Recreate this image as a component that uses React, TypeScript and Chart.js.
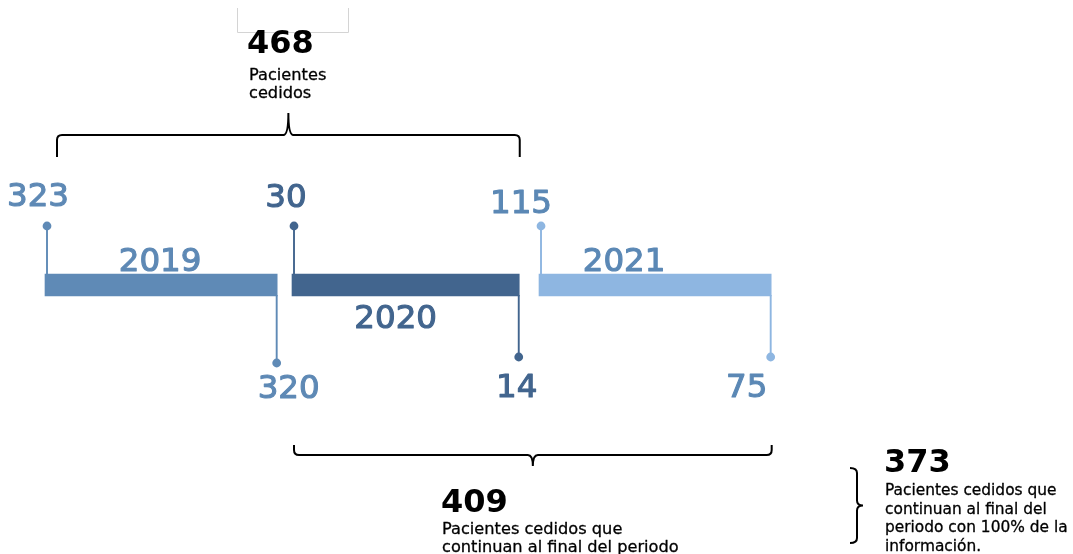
import { useEffect, useRef } from "react";
import { Chart, registerables } from "chart.js";

Chart.register(...registerables);

// ---- data ----
const years = ["2019", "2020", "2021"];
const periodStart = [2019, 2020, 2021];
const periodEnd = [2019.94, 2020.92, 2021.94];
const patientsStart = [323, 30, 115];
const patientsEnd = [320, 14, 75];
const totalCeded = 468;
const totalContinuing = 409;
const totalComplete = 373;
const cededText = ["Pacientes", "cedidos"];
const continuingText = ["Pacientes cedidos que", "continuan al final del periodo"];
const completeText = [
  "Pacientes cedidos que",
  "continuan al final del",
  "periodo con 100% de la",
  "información.",
];

// ---- styles ----
const barColors = ["#5f8ab6", "#42658e", "#8eb6e1"];
const labelColors = ["#5e89b5", "#42658e", "#5b88b5"];
const BIG = `32.5px "DejaVu Sans", sans-serif`;
const BLACK_BIG = `bold 32px "DejaVu Sans", sans-serif`;
const BODY = `16.2px "DejaVu Sans", sans-serif`;
const BODY_SIDE = `15.4px "DejaVu Sans", sans-serif`;

const topLabelNudge = [
  { dx: -9, dy: -20 },
  { dx: -8, dy: -19 },
  { dx: -20, dy: -13 },
];
const bottomStem = [67, 61, 61];
const bottomLabelNudge = [
  { dx: 12, dy: 35 },
  { dx: -2, dy: 40 },
  { dx: -24, dy: 40 },
];
const yearLabelNudge = [
  { dx: -1, dy: -3, below: false },
  { dx: -10, dy: 32, below: true },
  { dx: -31, dy: -3, below: false },
];

function drawText(
  ctx: CanvasRenderingContext2D,
  s: string,
  x: number,
  y: number,
  font: string,
  color: string,
  align: CanvasTextAlign = "left",
  thicken = 0
) {
  ctx.save();
  ctx.font = font;
  ctx.fillStyle = color;
  ctx.strokeStyle = color;
  ctx.textBaseline = "alphabetic";
  ctx.textAlign = align;
  ctx.fillText(s, x, y);
  if (thicken > 0) {
    ctx.lineWidth = thicken;
    ctx.lineJoin = "round";
    ctx.strokeText(s, x, y);
  }
  ctx.restore();
}

// horizontal brace; dir=-1 tip up, dir=1 tip down. y = horizontal line
function hBrace(ctx: CanvasRenderingContext2D, x1: number, x2: number, y: number, dir: number, armLen: number, tipLen: number) {
  const mid = (x1 + x2) / 2;
  const r = 5;
  const endY = y - dir * armLen;
  ctx.beginPath();
  ctx.moveTo(x1, endY);
  ctx.lineTo(x1, y - dir * r);
  ctx.quadraticCurveTo(x1, y, x1 + r, y);
  ctx.lineTo(mid - 5, y);
  ctx.quadraticCurveTo(mid, y, mid, y + dir * tipLen);
  ctx.quadraticCurveTo(mid, y, mid + 5, y);
  ctx.lineTo(x2 - r, y);
  ctx.quadraticCurveTo(x2, y, x2, y - dir * r);
  ctx.lineTo(x2, endY);
  ctx.stroke();
}

function vBrace(ctx: CanvasRenderingContext2D, x: number, y1: number, y2: number, arm: number, tip: number) {
  const mid = (y1 + y2) / 2;
  const r = 5;
  ctx.beginPath();
  ctx.moveTo(x - arm, y1);
  ctx.quadraticCurveTo(x, y1, x, y1 + r);
  ctx.lineTo(x, mid - 5);
  ctx.quadraticCurveTo(x, mid, x + tip, mid);
  ctx.quadraticCurveTo(x, mid, x, mid + 5);
  ctx.lineTo(x, y2 - r);
  ctx.quadraticCurveTo(x, y2, x - arm, y2);
  ctx.stroke();
}

const infoPlugin = {
  id: "infoPlugin",
  afterDatasetsDraw(chart: any) {
    const ctx: CanvasRenderingContext2D = chart.ctx;
    const meta = chart.getDatasetMeta(0);
    const xs = chart.scales.x;
    const stemsL: number[] = [];
    const stemsR: number[] = [];
    meta.data.forEach((el: any, i: number) => {
      const p = el.getProps(["x", "y", "base", "height"], true);
      const left = Math.min(p.x, p.base);
      const right = Math.max(p.x, p.base);
      const top = p.y - p.height / 2;
      const bottom = p.y + p.height / 2;
      const sl = left + 2;
      const sr = right - 0.5;
      stemsL.push(sl);
      stemsR.push(sr);
      const topDot = top - 48;
      const botDot = bottom + bottomStem[i];
      ctx.save();
      ctx.strokeStyle = barColors[i];
      ctx.fillStyle = barColors[i];
      ctx.lineWidth = 1.9;
      ctx.beginPath();
      ctx.moveTo(sl, top + 1);
      ctx.lineTo(sl, topDot);
      ctx.moveTo(sr, bottom - 1);
      ctx.lineTo(sr, botDot);
      ctx.stroke();
      ctx.beginPath();
      ctx.arc(sl, topDot, 4.4, 0, Math.PI * 2);
      ctx.fill();
      ctx.beginPath();
      ctx.arc(sr, botDot, 4.4, 0, Math.PI * 2);
      ctx.fill();
      ctx.restore();

      const tn = topLabelNudge[i];
      drawText(ctx, String(patientsStart[i]), sl + tn.dx, topDot + tn.dy, BIG, labelColors[i], "center", 1.1);
      const bn = bottomLabelNudge[i];
      drawText(ctx, String(patientsEnd[i]), sr + bn.dx, botDot + bn.dy, BIG, labelColors[i], "center", 1.1);
      const yn = yearLabelNudge[i];
      const cx = (left + right) / 2 + yn.dx;
      const by = yn.below ? bottom + yn.dy : top + yn.dy;
      drawText(ctx, years[i], cx, by, BIG, labelColors[i], "center", 1.1);
    });

    // braces
    ctx.save();
    ctx.strokeStyle = "#000";
    ctx.lineWidth = 2;
    ctx.lineCap = "butt";
    hBrace(ctx, xs.getPixelForValue(periodStart[0]) + 12, stemsR[1] + 1, 135, -1, 22, 22);
    hBrace(ctx, stemsL[1], stemsR[2] + 1, 455, 1, 10, 11);
    vBrace(ctx, 857, 468, 543, 7, 6);
    ctx.restore();

    // grey box at top
    ctx.save();
    ctx.strokeStyle = "#d4d4d4";
    ctx.lineWidth = 1;
    ctx.beginPath();
    ctx.moveTo(237.5, 8);
    ctx.lineTo(237.5, 32.5);
    ctx.lineTo(348.5, 32.5);
    ctx.lineTo(348.5, 8);
    ctx.stroke();
    ctx.restore();

    // annotation texts
    drawText(ctx, String(totalCeded), 247, 53, BLACK_BIG, "#000");
    cededText.forEach((s, k) => drawText(ctx, s, 249, 80 + k * 18, BODY, "#000", "left", 0.3));
    drawText(ctx, String(totalContinuing), 441, 512, BLACK_BIG, "#000");
    continuingText.forEach((s, k) => drawText(ctx, s, 442, 534 + k * 18, BODY, "#000", "left", 0.3));
    drawText(ctx, String(totalComplete), 884, 472, BLACK_BIG, "#000");
    completeText.forEach((s, k) => drawText(ctx, s, 885, 495 + k * 18.5, BODY_SIDE, "#000", "left", 0.3));
  },
};

export default function App() {
  const ref = useRef<HTMLCanvasElement | null>(null);
  useEffect(() => {
    document.body.style.margin = "0";
    const canvas = ref.current;
    if (!canvas) return;
    const chart = new Chart(canvas, {
      type: "bar",
      data: {
        labels: ["periodo"],
        datasets: [
          {
            data: periodStart.map((s, i) => ({ y: "periodo", x: [s, periodEnd[i]] })) as any,
            backgroundColor: barColors,
            borderWidth: 0,
            barThickness: 22,
          },
        ],
      },
      options: {
        indexAxis: "y",
        animation: false,
        responsive: true,
        maintainAspectRatio: false,
        layout: { padding: { top: 16, bottom: 0, left: 0, right: 0 } },
        plugins: { legend: { display: false }, tooltip: { enabled: false }, title: { display: false } },
        scales: {
          x: { type: "linear", min: 2018.8178, max: 2023.1619, display: false },
          y: { type: "category", display: false },
        },
      },
      plugins: [infoPlugin],
    });
    return () => chart.destroy();
  }, []);
  return (
    <div style={{ position: "relative", width: 1073, height: 554, background: "#fff" }}>
      <canvas ref={ref} />
    </div>
  );
}
